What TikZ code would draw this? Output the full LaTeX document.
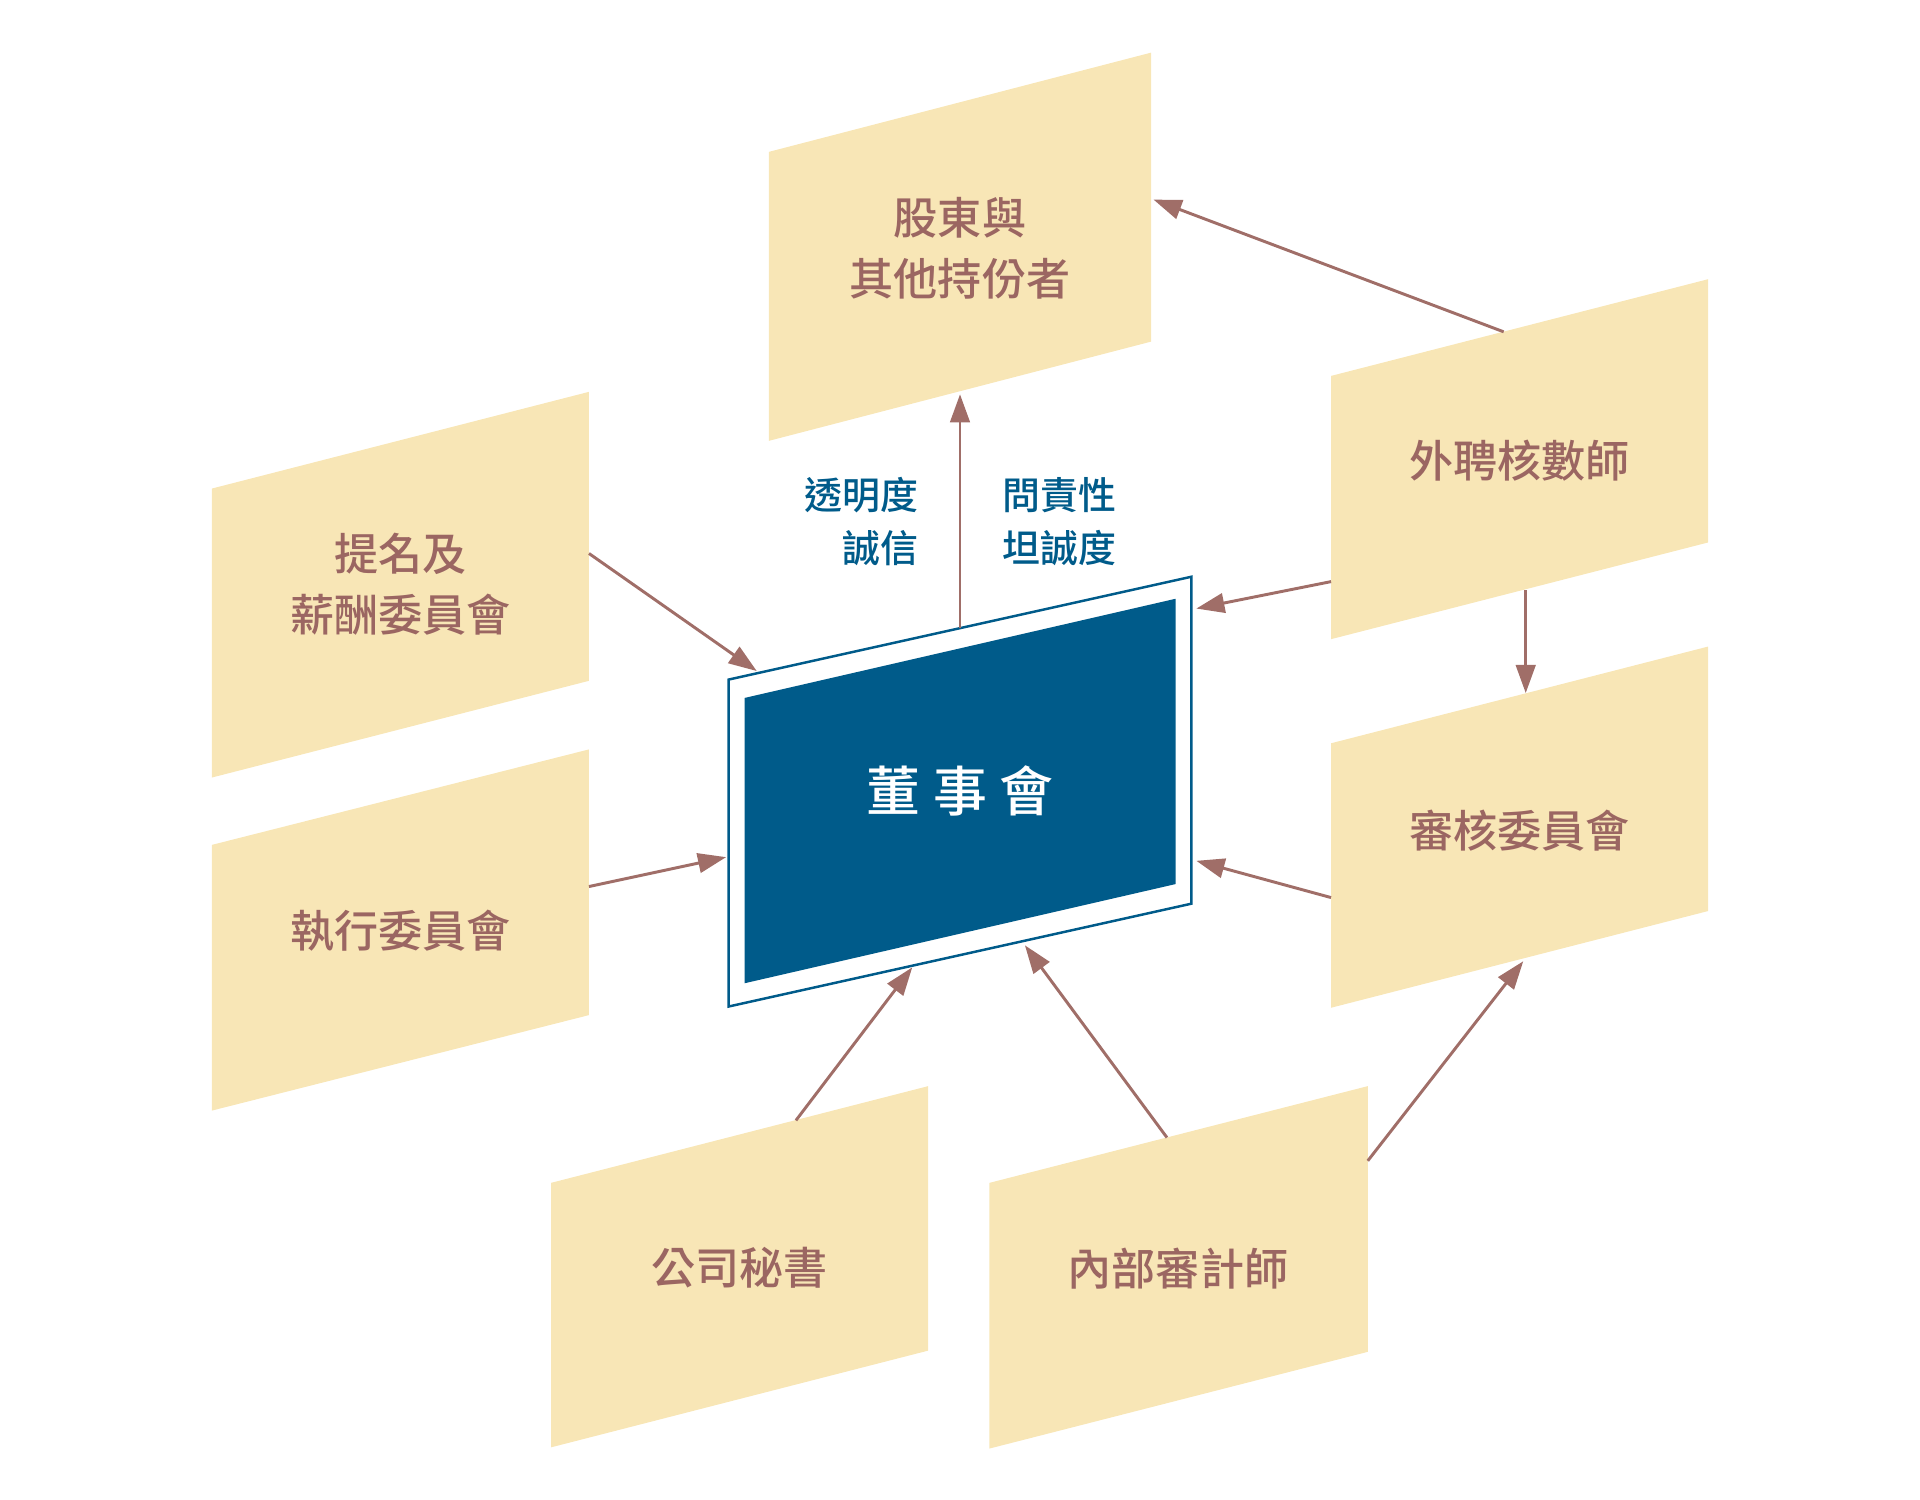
\documentclass[tikz,border=0pt]{standalone}
\usepackage{fontspec}
\setmainfont{Noto Sans CJK TC}
\newfontfamily\medium{Noto Sans CJK TC Medium}
\usepackage{xcolor}
\usetikzlibrary{arrows.meta}

\definecolor{beige}{RGB}{248,230,182}
\definecolor{rose}{RGB}{155,102,98}
\definecolor{linkc}{RGB}{160,110,104}
\definecolor{navy}{RGB}{0,91,138}

\begin{document}
\begin{tikzpicture}[x=0.5pt,y=-0.5pt,
		panel/.style={fill=beige},
		lab/.style={text=rose,font=\fontsize{18}{25}\selectfont\medium,align=center},
		note/.style={text=navy,font=\fontsize{15.5}{21.5}\selectfont\medium},
		link/.style={draw=linkc,line width=1.2pt,-{Triangle[length=11.5pt,width=8pt]}}]
		\useasboundingbox (0,0) rectangle (1568,1225);
		
		\fill[panel] (628,124) -- (940,43) -- (940,279) -- (628,360) -- cycle;
		\fill[panel] (173,399) -- (481,320) -- (481,556) -- (173,635) -- cycle;
		\fill[panel] (173,690) -- (481,612) -- (481,829) -- (173,907) -- cycle;
		\fill[panel] (1087,307) -- (1395,228) -- (1395,443) -- (1087,522) -- cycle;
		\fill[panel] (1087,607) -- (1395,528) -- (1395,744) -- (1087,823) -- cycle;
		\fill[panel] (450,966) -- (758,887) -- (758,1103) -- (450,1182) -- cycle;
		\fill[panel] (808,966) -- (1117,887) -- (1117,1104) -- (808,1183) -- cycle;
		
		\filldraw[fill=white,draw=navy,line width=1pt] (595,555) -- (973,471) -- (973,738) -- (595,822) -- cycle;
		\fill[navy] (608,570) -- (960,489) -- (960,722) -- (608,803) -- cycle;
		
		\node[lab] (share) at (784,203) {股東與\\其他持份者};
		\node[lab] (nomin) at (327,477) {提名及\\薪酬委員會};
		\node[lab] (exec) at (327,760) {執行委員會};
		\node[lab] (extaud) at (1241,376) {外聘核數師};
		\node[lab] (audit) at (1241,678) {審核委員會};
		\node[lab] (secr) at (604,1035) {公司秘書};
		\node[lab] (intaud) at (962,1036) {內部審計師};
		\node[text=white,font=\fontsize{22}{26}\selectfont\medium] (board) at (784,646) {董\hskip5pt事\hskip5pt會};
		
		\node[note,anchor=east,align=right] (noteL) at (757,426) {透明度\\誠信};
		\node[note,anchor=west,align=left] (noteR) at (812,426) {問責性\\坦誠度};
		
		\coordinate (board-n) at (784,513);
		\coordinate (board-nw) at (618,548);
		\coordinate (board-w) at (593,700);
		\coordinate (board-ne) at (977,497);
		\coordinate (board-e) at (977,703);
		\coordinate (board-sw) at (745,790);
		\coordinate (board-s) at (837,772);
		\coordinate (share-s) at (784,322);
		\coordinate (share-e) at (942,163);
		\coordinate (extaud-n) at (1228,271);
		\coordinate (extaud-w) at (1087,475);
		\coordinate (extaud-s) at (1246,482);
		\coordinate (audit-n) at (1246,566);
		\coordinate (audit-w) at (1087,733);
		\coordinate (audit-s) at (1244,785);
		\coordinate (nomin-e) at (481,452);
		\coordinate (exec-e) at (481,724);
		\coordinate (secr-n) at (650,915);
		\coordinate (intaud-n) at (953,929);
		\coordinate (intaud-e) at (1117,948);
		
		\draw[link] (board-n) -- (share-s);
		\draw[link] (extaud-n) -- (share-e);
		\draw[link] (extaud-w) -- (board-ne);
		\draw[link] (extaud-s) -- (audit-n);
		\draw[link] (audit-w) -- (board-e);
		\draw[link] (nomin-e) -- (board-nw);
		\draw[link] (exec-e) -- (board-w);
		\draw[link] (secr-n) -- (board-sw);
		\draw[link] (intaud-n) -- (board-s);
		\draw[link] (intaud-e) -- (audit-s);
	\end{tikzpicture}
\end{document}
